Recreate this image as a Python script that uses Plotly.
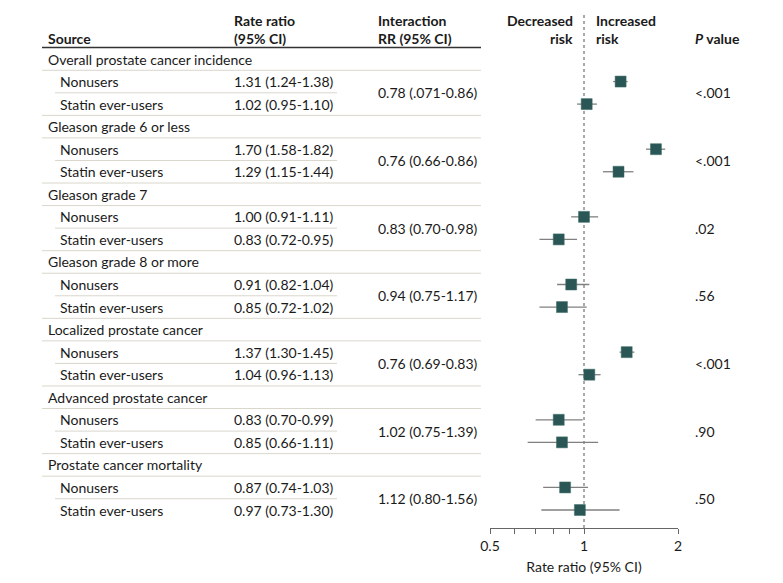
import plotly.graph_objects as go

# ---------------- data ----------------
groups = ["Overall prostate cancer incidence", "Gleason grade 6 or less", "Gleason grade 7",
          "Gleason grade 8 or more", "Localized prostate cancer", "Advanced prostate cancer",
          "Prostate cancer mortality"]
subgroups = ["Nonusers", "Statin ever-users"]
nonuser_rr = [1.31, 1.70, 1.00, 0.91, 1.37, 0.83, 0.87]
nonuser_lo = [1.24, 1.58, 0.91, 0.82, 1.30, 0.70, 0.74]
nonuser_hi = [1.38, 1.82, 1.11, 1.04, 1.45, 0.99, 1.03]
statin_rr = [1.02, 1.29, 0.83, 0.85, 1.04, 0.85, 0.97]
statin_lo = [0.95, 1.15, 0.72, 0.72, 0.96, 0.66, 0.73]
statin_hi = [1.10, 1.44, 0.95, 1.02, 1.13, 1.11, 1.30]
interaction = ["0.78 (.071-0.86)", "0.76 (0.66-0.86)", "0.83 (0.70-0.98)", "0.94 (0.75-1.17)",
               "0.76 (0.69-0.83)", "1.02 (0.75-1.39)", "1.12 (0.80-1.56)"]
p_values = ["<.001", "<.001", ".02", ".56", "<.001", ".90", ".50"]
tick_vals = [0.5, 0.6, 0.7, 0.8, 0.9, 1, 2]
tick_text = ["0.5", "", "", "", "", "1", "2"]

# ---------------- layout constants ----------------
OFF = 8                      # page body margin
W, H = 783 - 2 * OFF, 583 - 2 * OFF
ROW0_PX, ROW_H, AXIS_PX = 59, 22.55, 528
FONT = "Lato, Roboto, sans-serif"
TXT = "#1a1a1a"
FS = 14
MARK = "#2a5755"
LINE_LIGHT = "#d9d6cc"

def px(x):
    return (x - OFF) / W

def py(y):
    return 1 - (y - OFF) / H

ys_n, ys_s, ys_g = [], [], []
for g in range(len(groups)):
    ys_g.append(3 * g)
    ys_n.append(3 * g + 1)
    ys_s.append(3 * g + 2)

fig = go.Figure()

def add_series(rr, lo, hi, ys):
    fig.add_trace(go.Scatter(
        x=rr, y=ys, mode="markers",
        marker=dict(symbol="square", size=11, color=MARK, line=dict(color="#3f6e6b", width=0.5)),
        error_x=dict(type="data", symmetric=False,
                     array=[h - r for h, r in zip(hi, rr)],
                     arrayminus=[r - l for r, l in zip(rr, lo)],
                     color="#808080", thickness=1.3, width=0),
        showlegend=False, hoverinfo="skip"))

add_series(nonuser_rr, nonuser_lo, nonuser_hi, ys_n)
add_series(statin_rr, statin_lo, statin_hi, ys_s)

ann = []
shapes = []

def text(x, y, s, yref="y", xanchor="left", bold=False, size=FS):
    ann.append(dict(x=px(x), y=y, xref="paper", yref=yref, text=(f"<b>{s}</b>" if bold else s),
                    showarrow=False, xanchor=xanchor, yanchor="middle",
                    font=dict(family=FONT, size=size, color=TXT)))

# headers
text(46, py(38), "Source", yref="paper", bold=True)
text(232, py(20), "Rate ratio", yref="paper", bold=True)
text(232, py(38), "(95% CI)", yref="paper", bold=True)
text(376, py(20), "Interaction", yref="paper", bold=True)
text(376, py(38), "RR (95% CI)", yref="paper", bold=True)
text(575, py(20), "Decreased", yref="paper", xanchor="right", bold=True)
text(575, py(38), "risk", yref="paper", xanchor="right", bold=True)
text(594, py(20), "Increased", yref="paper", bold=True)
text(594, py(38), "risk", yref="paper", bold=True)
text(693, py(38), "<i>P</i> value", yref="paper", bold=True)

shapes.append(dict(type="line", xref="paper", yref="paper", x0=px(42), x1=px(481),
                   y0=py(47.5), y1=py(47.5), line=dict(color="#333333", width=1.5)))

for g, name in enumerate(groups):
    text(46, ys_g[g], name)
    text(58, ys_n[g], subgroups[0])
    text(58, ys_s[g], subgroups[1])
    text(232, ys_n[g], f"{nonuser_rr[g]:.2f} ({nonuser_lo[g]:.2f}-{nonuser_hi[g]:.2f})")
    text(232, ys_s[g], f"{statin_rr[g]:.2f} ({statin_lo[g]:.2f}-{statin_hi[g]:.2f})")
    mid = (ys_n[g] + ys_s[g]) / 2
    text(376, mid, interaction[g])
    text(693, mid, p_values[g])
    shapes.append(dict(type="line", xref="paper", yref="y", x0=px(42), x1=px(481),
                       y0=ys_g[g] + 0.5, y1=ys_g[g] + 0.5, line=dict(color=LINE_LIGHT, width=1)))
    shapes.append(dict(type="line", xref="paper", yref="y", x0=px(55), x1=px(337),
                       y0=ys_n[g] + 0.5, y1=ys_n[g] + 0.5, line=dict(color=LINE_LIGHT, width=1)))
    if g < len(groups) - 1:
        shapes.append(dict(type="line", xref="paper", yref="y", x0=px(42), x1=px(481),
                           y0=ys_s[g] + 0.5, y1=ys_s[g] + 0.5, line=dict(color=LINE_LIGHT, width=1)))

# reference line at 1
shapes.append(dict(type="line", xref="x", yref="paper", x0=1, x1=1, y0=py(AXIS_PX), y1=py(13),
                   line=dict(color="#555555", width=1, dash="dot"), layer="below"))

y_top = -(ROW0_PX - OFF) / ROW_H
y_bot = (AXIS_PX - ROW0_PX) / ROW_H

fig.update_layout(
    width=W, height=H, margin=dict(l=0, r=0, t=0, b=0, pad=0, autoexpand=False),
    paper_bgcolor="white", plot_bgcolor="white",
    annotations=ann, shapes=shapes,
    xaxis=dict(type="log", range=[-0.30103, 0.30103], domain=[px(490), px(678)],
               tickvals=tick_vals, ticktext=tick_text, ticks="outside", ticklen=5,
               tickcolor="#666666", tickwidth=1, showline=True, linecolor="#666666", linewidth=1,
               showgrid=False, zeroline=False, automargin=False,
               tickfont=dict(family=FONT, size=FS, color=TXT),
               title=dict(text="Rate ratio (95% CI)", font=dict(family=FONT, size=FS, color=TXT),
                          standoff=12)),
    yaxis=dict(range=[y_bot, y_top], domain=[py(AXIS_PX), 1], visible=False,
               showgrid=False, zeroline=False, automargin=False),
)

fig.write_html("out.html")
